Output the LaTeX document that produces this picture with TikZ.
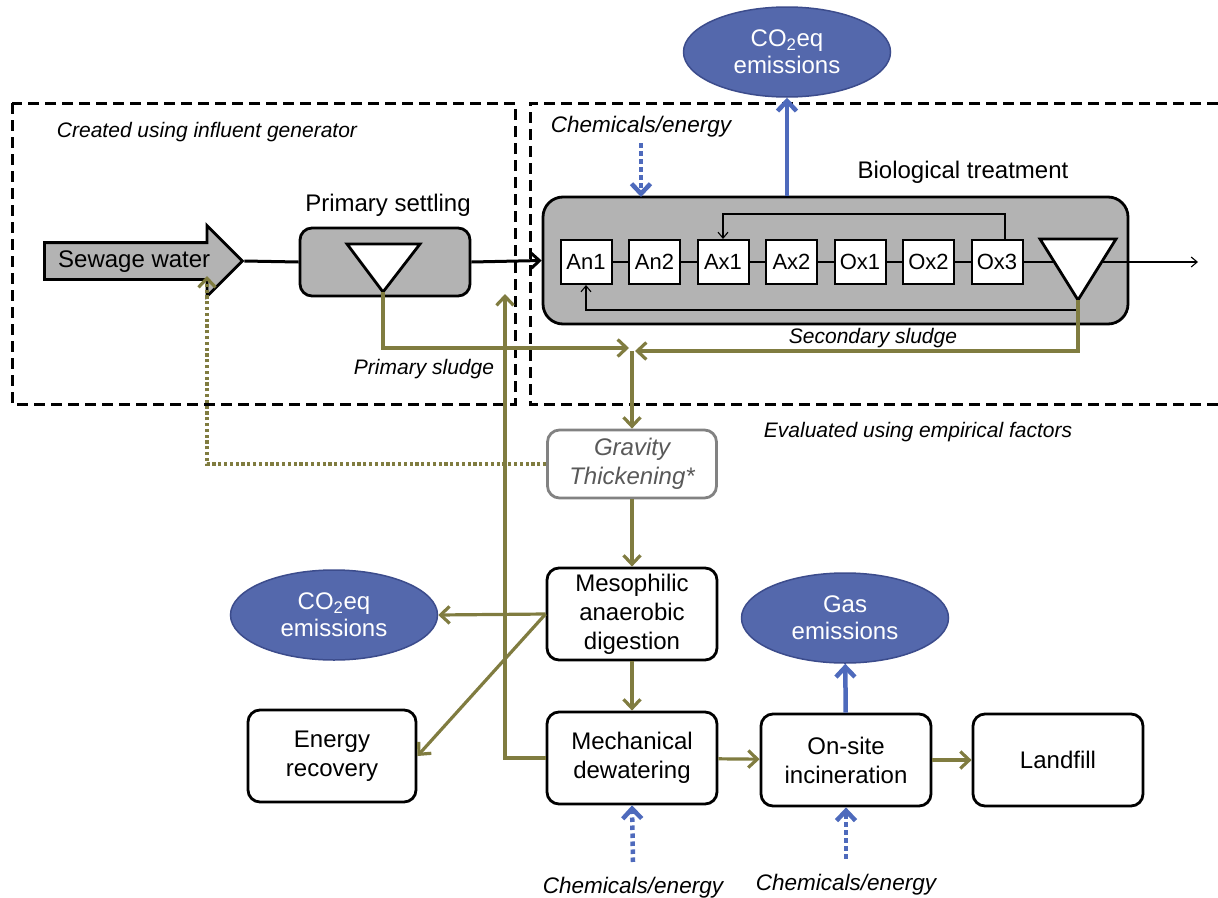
\documentclass[tikz,border=0pt]{standalone}
\usepackage{fontspec}
\setmainfont{Liberation Sans}
\usetikzlibrary{arrows.meta,shapes.geometric,shapes.arrows,positioning}
\definecolor{sludge}{RGB}{128,124,64}
\definecolor{emis}{RGB}{84,104,172}
\definecolor{emisdark}{RGB}{60,76,140}
\definecolor{emisline}{RGB}{78,106,188}
\definecolor{tank}{RGB}{179,179,179}
\definecolor{gravgray}{RGB}{130,130,130}

\begin{document}
\begin{tikzpicture}[x=1pt, y=-1pt,
    proc/.style={draw, line width=2.8pt, rounded corners=12pt, minimum width=170pt, minimum height=92pt, align=center, font=\fontsize{24}{29}\selectfont, fill=white},
    reactor/.style={draw, line width=2pt, fill=white, minimum width=51pt, minimum height=44pt, inner sep=0pt, font=\fontsize{22}{26}\selectfont},
    emission/.style={ellipse, draw=emisdark, line width=1.5pt, fill=emis, text=white, minimum width=207pt, minimum height=90pt, inner sep=0pt, align=center, font=\fontsize{24}{27}\selectfont},
    lbl/.style={font=\fontsize{21}{25}\selectfont\itshape},
    chemlbl/.style={font=\fontsize{22.5}{26}\selectfont\itshape},
    title/.style={font=\fontsize{24}{29}\selectfont},
    region/.style={line width=3pt, dash pattern=on 11pt off 6pt},
    flow/.style={line width=3pt, -{Straight Barb[length=8pt,width=15pt,line width=3pt]}},
    sludgeflow/.style={draw=sludge, line width=3.2pt, -{Straight Barb[length=9pt,width=17pt,line width=3.2pt]}},
    recycle/.style={line width=1.1pt, -{Straight Barb[length=6pt,width=10pt,line width=1.1pt]}},
    emisflow/.style={draw=emisline, line width=4.5pt, -{Straight Barb[length=10pt,width=19pt,line width=4.5pt]}},
    chemflow/.style={draw=emisline, line width=4.5pt, dash pattern=on 4.5pt off 3.5pt, -{Straight Barb[length=10pt,width=19pt,line width=4.5pt]}}
  ]
    \useasboundingbox (0,0) rectangle (1218,897);

    % regions
    \draw[region] (12,103) rectangle (515,404);
    \draw[region] (1218,103) -- (530,103) -- (530,404) -- (1218,404);
    \node[lbl] (genlbl) at (207,132) {Created using influent generator};
    \node[lbl] (emplbl) at (918,432) {Evaluated using empirical factors};

    % influent and primary settling
    \node[single arrow, draw, fill=tank, line width=2.8pt, anchor=tail, minimum height=198pt, single arrow head extend=17pt, text height=17pt, text depth=5pt, inner ysep=6pt, inner xsep=4pt, font=\fontsize{24}{29}\selectfont] (sewage) at (43,261) {Sewage water};
    \node[draw, fill=tank, line width=2.8pt, rounded corners=12pt, minimum width=170pt, minimum height=68pt] (prim) at (385,262) {};
    \draw[line width=2.8pt, fill=white] (347,244) -- (420,244) -- (383,292) -- cycle;
    \coordinate (primapex) at (383,292);
    \node[title] (primlbl) at (388,205) {Primary settling};

    % biological treatment
    \node[draw, fill=tank, line width=2.8pt, rounded corners=20pt, minimum width=585pt, minimum height=127pt] (bio) at (835.5,260.5) {};
    \node[title] (biolbl) at (963,172) {Biological treatment};
    \foreach \name [count=\i from 0] in {An1,An2,Ax1,Ax2,Ox1,Ox2,Ox3}
      \node[reactor] (\name) at ({586+68.5*\i},262) {\name};
    \foreach \a/\b in {An1/An2,An2/Ax1,Ax1/Ax2,Ax2/Ox1,Ox1/Ox2,Ox2/Ox3}
      \draw[line width=1.1pt] (\a) -- (\b);
    \draw[line width=2.8pt, fill=white] (1040,239) -- (1116,239) -- (1078,300) -- cycle;
    \coordinate (secapex) at (1078,300);
    \coordinate (secin) at (1054,262);
    \coordinate (secout) at (1102,262);
    \coordinate (effluent) at (1198,262);
    \coordinate (rasbend) at (1078,310);
    \draw[line width=1.1pt] (Ox3) -- (secin);
    \draw[recycle] (secout) -- (effluent);
    \draw[recycle] ([xshift=8pt]Ox3.north) -- ++(0,-25) -| (Ax1.north);
    \draw[recycle] (rasbend) -| (An1.south);
    \draw[line width=1.1pt] (secapex) -- (rasbend);

    \node[chemlbl] (chemtop) at (641,127) {Chemicals/energy};
    \node[emission] (co2top) at (787,52) {CO\textsubscript{2}eq\\emissions};
    \draw[chemflow] ([yshift=-2pt]chemtop.south -| 641,0) -- (641,197);
    \draw[emisflow] (co2top.south |- bio.north) -- (co2top.south);

    \draw[line width=3pt] (sewage.tip) -- (prim.west);
    \draw[flow] (prim.east) -- (bio.west);

    % sludge line
    \coordinate (join) at (632,351);
    \node[proc, draw=gravgray, text=black!65, font=\fontsize{24}{29}\selectfont\itshape, minimum width=169pt, minimum height=68pt] (grav) at (632,464) {Gravity\\Thickening*};
    \node[proc] (meso) at (632,614) {Mesophilic\\anaerobic\\digestion};
    \node[proc] (mech) at (632,758) {Mechanical\\dewatering};
    \node[proc] (onsite) at (846,760) {On-site\\incineration};
    \node[proc] (landfill) at (1058,760) {Landfill};
    \node[proc, minimum width=168pt] (energy) at (332,756) {Energy\\recovery};
    \node[emission] (co2dig) at (334,615) {CO\textsubscript{2}eq\\emissions};
    \node[emission] (gas) at (845,618) {Gas\\emissions};

    \node[lbl] (primsl) at (424,369) {Primary sludge};
    \node[lbl] (secsl) at (873,338) {Secondary sludge};
    \draw[sludgeflow] (primapex) |- ([xshift=-3pt]join |- 0,348);
    \draw[sludgeflow] (secapex) |- ([xshift=3pt]join);
    \draw[sludgeflow] (join) -- (grav);
    \coordinate (sewret) at (207,276);
    \draw[sludgeflow, dash pattern=on 3.2pt off 2.6pt] (grav.west) -| (sewret);
    \draw[sludgeflow] (grav) -- (meso);
    \draw[sludgeflow] (meso) -- (mech);
    \draw[sludgeflow] (mech) -- (onsite);
    \draw[sludgeflow] (onsite) -- (landfill);
    \draw[sludgeflow] (meso.west) -- (co2dig.east);
    \draw[sludgeflow] (meso.west) -- (energy.east);
    \coordinate (reject) at (505,294);
    \draw[sludgeflow] (mech.west) -| (reject);

    % emissions and inputs
    \draw[emisflow] (onsite) -- (gas);
    \node[chemlbl] (chemdew) at (633,888) {Chemicals/energy};
    \node[chemlbl] (cheminc) at (846,885) {Chemicals/energy};
    \draw[chemflow] ([yshift=12pt]chemdew.north) -- (mech.south);
    \draw[chemflow] ([yshift=12pt]cheminc.north) -- (onsite.south);
  \end{tikzpicture}
\end{document}
